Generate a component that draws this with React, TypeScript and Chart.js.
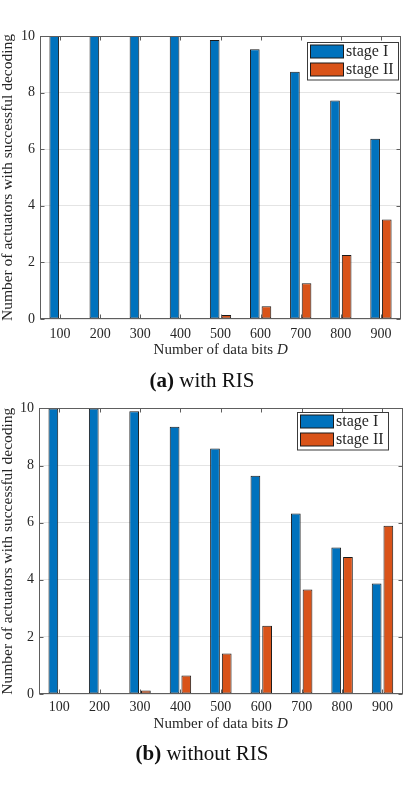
import React, { useEffect, useRef } from 'react';
import { Chart, registerables } from 'chart.js';

Chart.register(...registerables);

// ---- data ----
const categories = ['100', '200', '300', '400', '500', '600', '700', '800', '900'];
const seriesLabels = ['stage I', 'stage II'];
const withRisStage1 = [10, 10, 10, 10, 9.86, 9.53, 8.74, 7.72, 6.37];
const withRisStage2 = [0, 0, 0, 0, 0.14, 0.45, 1.26, 2.26, 3.52];
const withoutRisStage1 = [10, 10, 9.9, 9.36, 8.6, 7.64, 6.32, 5.13, 3.87];
const withoutRisStage2 = [0, 0, 0.12, 0.65, 1.42, 2.39, 3.66, 4.8, 5.89];
const yTicks = [0, 2, 4, 6, 8, 10];
const yTitle = 'Number of actuators with successful decoding';

const BLUE = '#0072BD';
const ORANGE = '#D95319';
const EDGE = '#1a1a1a';
const AXIS = '#5e5e5e';
const TEXT = '#262626';
const FONT = '"Liberation Serif", "Times New Roman", serif';

type LegendPos = { rightInset: number; topInset: number };

const framePlugin = {
  id: 'matlabFrame',
  afterDraw(chart: any) {
    const { ctx, chartArea } = chart;
    const l = Math.round(chartArea.left) + 0.5;
    const r = Math.round(chartArea.right) - 0.5;
    const t = Math.round(chartArea.top) + 0.5;
    const b = Math.round(chartArea.bottom) - 0.5;
    ctx.save();
    ctx.strokeStyle = AXIS;
    ctx.lineWidth = 1;
    ctx.strokeRect(l, t, r - l, b - t);
    const ys = chart.scales.y;
    const xs = chart.scales.x;
    ctx.beginPath();
    yTicks.forEach((v) => {
      const py = Math.round(ys.getPixelForValue(v)) + 0.5;
      ctx.moveTo(l, py);
      ctx.lineTo(l + 4, py);
      ctx.moveTo(r, py);
      ctx.lineTo(r - 4, py);
    });
    categories.forEach((_c, i) => {
      const px = Math.round(xs.getPixelForValue(i)) + 0.5;
      ctx.moveTo(px, t);
      ctx.lineTo(px, t + 4);
      ctx.moveTo(px, b);
      ctx.lineTo(px, b - 4);
    });
    ctx.stroke();

    // legend box
    const lp: LegendPos = chart.options.plugins.matlabFrame;
    const boxW = 91;
    const boxH = 37.5;
    const bx = Math.round(chartArea.right - lp.rightInset - boxW) + 0.5;
    const by = Math.round(chartArea.top + lp.topInset) + 0.5;
    ctx.fillStyle = '#ffffff';
    ctx.fillRect(bx, by, boxW, boxH);
    ctx.strokeStyle = '#3a3a3a';
    ctx.strokeRect(bx, by, boxW, boxH);
    chart.data.datasets.forEach((ds: any, i: number) => {
      const cy = by + 9 + i * 18;
      ctx.fillStyle = ds.backgroundColor;
      ctx.fillRect(bx + 3, cy - 6.5, 33, 13);
      ctx.strokeStyle = EDGE;
      ctx.strokeRect(bx + 3, cy - 6.5, 33, 13);
      ctx.fillStyle = TEXT;
      ctx.font = `16px ${FONT}`;
      ctx.textBaseline = 'middle';
      ctx.textAlign = 'left';
      ctx.fillText(ds.label, bx + 38.5, cy + 0.5);
    });
    ctx.restore();
  },
};

function BarChart(props: {
  s1: number[];
  s2: number[];
  height: number;
  padTop: number;
  padRight: number;
  yWidth: number;
  xHeight: number;
  tickPad: number;
  legend: LegendPos;
}) {
  const ref = useRef<HTMLCanvasElement | null>(null);
  useEffect(() => {
    if (!ref.current) return;
    const ds = (label: string, data: number[], color: string) => ({
      label,
      data,
      backgroundColor: color,
      borderColor: EDGE,
      borderWidth: 1,
      borderSkipped: false,
      categoryPercentage: 0.58,
      barPercentage: 0.83,
    });
    const chart = new Chart(ref.current, {
      type: 'bar',
      data: {
        labels: categories,
        datasets: [ds(seriesLabels[0], props.s1, BLUE), ds(seriesLabels[1], props.s2, ORANGE)],
      },
      options: {
        animation: false,
        responsive: false,
        maintainAspectRatio: false,
        devicePixelRatio: 1,
        layout: { padding: { top: props.padTop, right: props.padRight, left: 0, bottom: 0 } },
        plugins: {
          legend: { display: false },
          tooltip: { enabled: false },
          matlabFrame: props.legend,
        } as any,
        scales: {
          x: {
            type: 'category',
            grid: { display: false, drawTicks: false },
            border: { display: false },
            ticks: { color: TEXT, font: { family: FONT, size: 14 }, padding: props.tickPad },
            afterFit: (s: any) => {
              s.height = props.xHeight;
            },
          },
          y: {
            min: 0,
            max: 10,
            afterBuildTicks: (s: any) => {
              s.ticks = yTicks.map((v) => ({ value: v }));
            },
            grid: { color: '#e4e4e4', lineWidth: 1, drawTicks: false },
            border: { display: false },
            ticks: { color: TEXT, font: { family: FONT, size: 14 }, padding: 5 },
            title: {
              display: true,
              text: yTitle,
              color: TEXT,
              font: { family: FONT, size: 15.5, lineHeight: 1 },
              padding: 0,
            },
            afterFit: (s: any) => {
              s.width = props.yWidth;
            },
          },
        },
      } as any,
      plugins: [framePlugin],
    });
    return () => chart.destroy();
  }, []);
  return <canvas ref={ref} width={404} height={props.height} style={{ display: 'block', width: 404, height: props.height }} />;
}

const xTitleStyle: React.CSSProperties = {
  position: 'absolute',
  left: 0,
  width: 441.4,
  textAlign: 'center',
  fontFamily: FONT,
  fontSize: 15,
  lineHeight: '15px',
  color: TEXT,
  whiteSpace: 'nowrap',
};

const captionStyle: React.CSSProperties = {
  position: 'absolute',
  left: 0,
  width: 404,
  textAlign: 'center',
  fontFamily: FONT,
  fontSize: 21,
  lineHeight: '21px',
  color: '#111',
  whiteSpace: 'nowrap',
};

export default function App() {
  useEffect(() => {
    document.body.style.margin = '0';
  }, []);
  return (
    <div style={{ position: 'relative', width: 404, height: 790, background: '#fff', overflow: 'hidden' }}>
      <div style={{ position: 'absolute', left: 0, top: 0 }}>
        <BarChart
          s1={withRisStage1}
          s2={withRisStage2}
          height={365}
          padTop={36}
          padRight={3}
          yWidth={40}
          xHeight={46}
          tickPad={7}
          legend={{ rightInset: 3, topInset: 6 }}
        />
      </div>
      <div style={{ ...xTitleStyle, top: 342 }}>
        Number of data bits <i>D</i>
      </div>
      <div style={{ ...captionStyle, top: 370 }}>
        <b>(a)</b> with RIS
      </div>

      <div style={{ position: 'absolute', left: 0, top: 395 }}>
        <BarChart
          s1={withoutRisStage1}
          s2={withoutRisStage2}
          height={345}
          padTop={13.3}
          padRight={1.3}
          yWidth={39}
          xHeight={46}
          tickPad={5}
          legend={{ rightInset: 15, topInset: 4 }}
        />
      </div>
      <div style={{ ...xTitleStyle, top: 715.6 }}>
        Number of data bits <i>D</i>
      </div>
      <div style={{ ...captionStyle, top: 743 }}>
        <b>(b)</b> without RIS
      </div>
    </div>
  );
}
